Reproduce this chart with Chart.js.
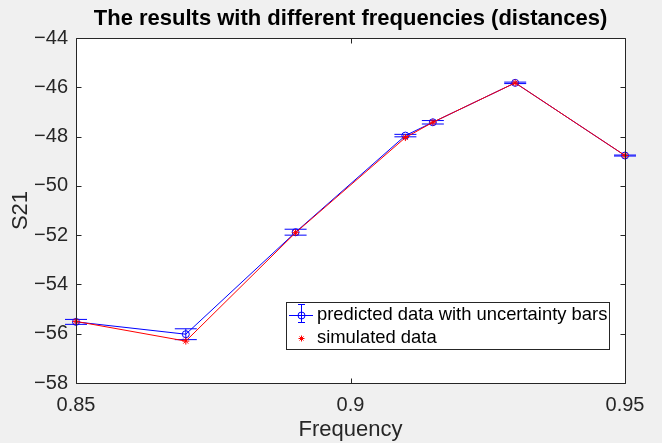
<!DOCTYPE html>
<html>
<head>
<meta charset="utf-8">
<script src="https://cdn.jsdelivr.net/npm/chart.js@4.4.1/dist/chart.umd.min.js"></script>
<style>
  html, body { margin: 0; padding: 0; background: #f0f0f0; }
  #wrap { width: 662px; height: 443px; }
</style>
</head>
<body>
<div id="wrap"><canvas id="c" width="662" height="443"></canvas></div>
<script>
// ---- data ----
const frequency = [0.85, 0.87, 0.89, 0.91, 0.915, 0.93, 0.95];
const predicted = [-55.52, -56.02, -51.88, -47.96, -47.42, -45.82, -48.77];
const uncertainty = [0.10, 0.22, 0.12, 0.05, 0.07, 0.03, 0.02];
const simulated = [-55.50, -56.30, -51.90, -48.04, -47.42, -45.82, -48.77];
const xTicks = [0.85, 0.9, 0.95];
const yTicks = [-58, -56, -54, -52, -50, -48, -46, -44];
const xTickLabels = ['0.85', '0.9', '0.95'];
const yTickLabels = ['\u221258', '\u221256', '\u221254', '\u221252', '\u221250', '\u221248', '\u221246', '\u221244'];
const titleText = 'The results with different frequencies (distances)';
const xLabel = 'Frequency';
const yLabel = 'S21';
const legendLabels = ['predicted data with uncertainty bars', 'simulated data'];

const FONT = "'Liberation Sans', Arial, Helvetica, sans-serif";
const AXIS_COLOR = '#262626';
const BLUE = '#0000ff';
const RED = '#ff0000';

const bgPlugin = {
  id: 'bg',
  beforeDraw(chart) {
    const ctx = chart.ctx, a = chart.chartArea;
    ctx.save();
    ctx.fillStyle = '#f0f0f0';
    ctx.fillRect(0, 0, chart.width, chart.height);
    ctx.fillStyle = '#ffffff';
    ctx.fillRect(a.left, a.top, a.right - a.left, a.bottom - a.top);
    ctx.restore();
  }
};

const errorBarPlugin = {
  id: 'errbars',
  afterDatasetDraw(chart, args) {
    if (args.index !== 0) return;
    const ctx = chart.ctx, xs = chart.scales.x, ys = chart.scales.y;
    const a = chart.chartArea;
    ctx.save();
    ctx.beginPath();
    ctx.rect(a.left - 12, a.top, a.right - a.left + 24, a.bottom - a.top);
    ctx.clip();
    ctx.strokeStyle = BLUE;
    ctx.lineWidth = 1;
    const cap = 11;
    frequency.forEach((f, i) => {
      const x = xs.getPixelForValue(f);
      const y1 = ys.getPixelForValue(predicted[i] - uncertainty[i]);
      const y2 = ys.getPixelForValue(predicted[i] + uncertainty[i]);
      ctx.beginPath();
      ctx.moveTo(x, y1); ctx.lineTo(x, y2);
      ctx.moveTo(x - cap, y1); ctx.lineTo(x + cap, y1);
      ctx.moveTo(x - cap, y2); ctx.lineTo(x + cap, y2);
      ctx.stroke();
    });
    ctx.restore();
  }
};

const boxPlugin = {
  id: 'box',
  afterDraw(chart) {
    const ctx = chart.ctx, a = chart.chartArea, xs = chart.scales.x, ys = chart.scales.y;
    ctx.save();
    ctx.strokeStyle = AXIS_COLOR;
    ctx.lineWidth = 1;
    const L = Math.round(a.left) + 0.5, R = Math.round(a.right) + 0.5;
    const T = Math.round(a.top) + 0.5, B = Math.round(a.bottom) + 0.5;
    ctx.beginPath();
    ctx.rect(L, T, R - L, B - T);
    const tl = 5;
    xTicks.forEach(v => {
      const x = Math.round(xs.getPixelForValue(v)) + 0.5;
      ctx.moveTo(x, B); ctx.lineTo(x, B - tl);
      ctx.moveTo(x, T); ctx.lineTo(x, T + tl);
    });
    yTicks.forEach(v => {
      const y = Math.round(ys.getPixelForValue(v)) + 0.5;
      ctx.moveTo(L, y); ctx.lineTo(L + tl, y);
      ctx.moveTo(R, y); ctx.lineTo(R - tl, y);
    });
    ctx.stroke();

    // legend box
    const lx = 286.5, ly = 302.5, lw = 323, lh = 47;
    ctx.fillStyle = '#ffffff';
    ctx.fillRect(lx, ly, lw, lh);
    ctx.strokeStyle = AXIS_COLOR;
    ctx.strokeRect(lx, ly, lw, lh);
    const r1 = 315, r2 = 338, mx = 301;
    // row 1: line + errorbar + circle
    ctx.strokeStyle = BLUE;
    ctx.beginPath();
    ctx.moveTo(289, r1 + 0.5); ctx.lineTo(313, r1 + 0.5);
    ctx.moveTo(mx + 0.5, r1 - 11); ctx.lineTo(mx + 0.5, r1 + 8);
    ctx.moveTo(mx - 3, r1 - 10.5); ctx.lineTo(mx + 4, r1 - 10.5);
    ctx.moveTo(mx - 3, r1 + 7.5); ctx.lineTo(mx + 4, r1 + 7.5);
    ctx.stroke();
    ctx.beginPath();
    ctx.arc(mx + 0.5, r1 + 0.5, 3.5, 0, Math.PI * 2);
    ctx.stroke();
    // row 2: red star
    ctx.strokeStyle = RED;
    ctx.beginPath();
    const s = 3;
    ctx.moveTo(mx + 0.5 - s, r2 + 0.5); ctx.lineTo(mx + 0.5 + s, r2 + 0.5);
    ctx.moveTo(mx + 0.5, r2 + 0.5 - s); ctx.lineTo(mx + 0.5, r2 + 0.5 + s);
    ctx.moveTo(mx + 0.5 - 2, r2 + 0.5 - 2); ctx.lineTo(mx + 0.5 + 2, r2 + 0.5 + 2);
    ctx.moveTo(mx + 0.5 - 2, r2 + 0.5 + 2); ctx.lineTo(mx + 0.5 + 2, r2 + 0.5 - 2);
    ctx.stroke();
    ctx.fillStyle = '#000000';
    ctx.font = '18.4px ' + FONT;
    ctx.textBaseline = 'middle';
    ctx.textAlign = 'left';
    ctx.fillText(legendLabels[0], 317, r1);
    ctx.fillText(legendLabels[1], 317, r2);
    ctx.restore();
  }
};

new Chart(document.getElementById('c'), {
  type: 'scatter',
  data: {
    datasets: [
      {
        label: legendLabels[0],
        order: 1,
        data: frequency.map((f, i) => ({ x: f, y: predicted[i] })),
        showLine: true,
        borderColor: BLUE,
        borderWidth: 1,
        pointStyle: 'circle',
        pointRadius: 3.5,
        pointBorderColor: BLUE,
        pointBackgroundColor: 'rgba(0,0,0,0)',
        pointBorderWidth: 1,
        tension: 0,
        clip: 12
      },
      {
        label: legendLabels[1],
        order: 0,
        data: frequency.map((f, i) => ({ x: f, y: simulated[i] })),
        showLine: true,
        borderColor: RED,
        borderWidth: 1,
        pointStyle: 'star',
        pointRadius: 3.5,
        pointBorderColor: RED,
        pointBackgroundColor: RED,
        pointBorderWidth: 1,
        tension: 0,
        clip: 12
      }
    ]
  },
  options: {
    responsive: false,
    animation: false,
    events: [],
    layout: { padding: { left: 0, right: 37, top: 0, bottom: 0 } },
    plugins: {
      legend: { display: false },
      tooltip: { enabled: false },
      title: {
        display: true,
        text: titleText,
        fullSize: false,
        color: '#000000',
        font: { family: FONT, size: 22, weight: 'bold', lineHeight: 1.2 },
        padding: { top: 6, bottom: 5.6 }
      }
    },
    scales: {
      x: {
        type: 'linear',
        min: 0.85, max: 0.95,
        grid: { display: false, drawTicks: false },
        border: { display: false },
        afterBuildTicks: (s) => { s.ticks = xTicks.map(v => ({ value: v })); },
        afterFit: (s) => { s.height = 60; },
        ticks: {
          color: AXIS_COLOR,
          padding: 10,
          maxRotation: 0,
          autoSkip: false,
          font: { family: FONT, size: 20 },
          callback: (v) => xTickLabels[xTicks.indexOf(v)] ?? ''
        },
        title: {
          display: true,
          text: xLabel,
          color: AXIS_COLOR,
          font: { family: FONT, size: 22 },
          padding: { top: 0, bottom: 0 }
        }
      },
      y: {
        type: 'linear',
        min: -58, max: -44,
        grid: { display: false, drawTicks: false },
        border: { display: false },
        afterBuildTicks: (s) => { s.ticks = yTicks.map(v => ({ value: v })); },
        afterFit: (s) => { s.width = 76; },
        ticks: {
          color: AXIS_COLOR,
          padding: 8,
          autoSkip: false,
          font: { family: FONT, size: 20 },
          callback: (v) => yTickLabels[yTicks.indexOf(v)] ?? ''
        },
        title: {
          display: true,
          text: yLabel,
          color: AXIS_COLOR,
          font: { family: FONT, size: 22 },
          padding: { top: 8, bottom: 0 }
        }
      }
    }
  },
  plugins: [bgPlugin, errorBarPlugin, boxPlugin]
});
</script>
</body>
</html>
